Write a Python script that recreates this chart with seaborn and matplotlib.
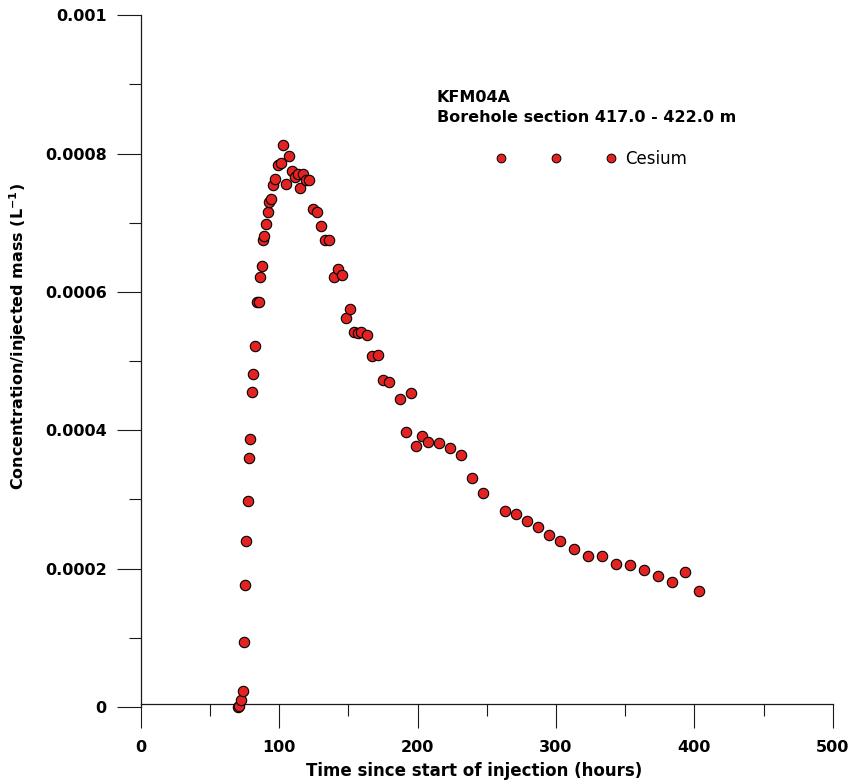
import numpy as np
import pandas as pd
import matplotlib
matplotlib.use("Agg")
import matplotlib.pyplot as plt
import seaborn as sns
from matplotlib.lines import Line2D
from matplotlib.ticker import MultipleLocator

# ---- data ----
time_h = [70.1, 71.3, 72.7, 73.7, 74.4, 75.4, 76.3, 77.3, 78.3, 79.2,
          80.4, 81.4, 82.6, 83.8, 85.5, 86.4, 87.4, 88.4, 89.3, 90.3,
          91.7, 92.7, 94.4, 95.6, 96.8, 99.4, 101.4, 102.9, 105.2, 107.4,
          109.1, 111.5, 113.4, 115.3, 117.3, 119.4, 121.4, 124.3, 127.4, 130.3,
          133.2, 136.3, 139.4, 142.3, 145.4, 148.3, 151.4, 154.3, 157.2, 159.4,
          163.5, 167.1, 171.5, 175.3, 179.4, 187.3, 191.5, 195.5, 199.1, 203.5,
          207.4, 215.5, 223.5, 231.2, 239.4, 247.3, 263.3, 271.4, 279.3, 287.3,
          295.2, 303.2, 313.3, 323.4, 333.3, 343.4, 353.5, 363.4, 373.6, 383.7,
          393.5, 403.4]
conc = [0.0, 0.000001, 0.000010, 0.000023, 0.0000935, 0.000177, 0.000240, 0.000298, 0.000360, 0.000388,
        0.000455, 0.000482, 0.000522, 0.000585, 0.000585, 0.000621, 0.000637, 0.000675, 0.000681, 0.000699,
        0.000715, 0.000730, 0.000735, 0.000754, 0.000763, 0.000784, 0.000787, 0.000813, 0.000756, 0.000796,
        0.000775, 0.000766, 0.000770, 0.000751, 0.000771, 0.000762, 0.000762, 0.000720, 0.000715, 0.000696,
        0.000675, 0.000675, 0.000621, 0.000633, 0.000624, 0.000563, 0.000575, 0.000542, 0.000541, 0.000542,
        0.000538, 0.000507, 0.000509, 0.000473, 0.000470, 0.000445, 0.000398, 0.000454, 0.000377, 0.000392,
        0.000383, 0.000382, 0.000374, 0.000364, 0.000331, 0.000310, 0.000284, 0.000279, 0.000269, 0.000260,
        0.000248, 0.000240, 0.000229, 0.000219, 0.000219, 0.000207, 0.000205, 0.000198, 0.000190, 0.000180,
        0.000195, 0.000168]
series_name = "Cesium"
xticks = [0, 100, 200, 300, 400, 500]
xtick_labels = ["0", "100", "200", "300", "400", "500"]
yticks = [0, 0.0002, 0.0004, 0.0006, 0.0008, 0.001]
ytick_labels = ["0", "0.0002", "0.0004", "0.0006", "0.0008", "0.001"]
title_lines = ["KFM04A", "Borehole section 417.0 - 422.0 m"]
x_label = "Time since start of injection (hours)"
y_label = r"Concentration/injected mass (L$^{\mathbf{-1}}$)"

df = pd.DataFrame({"time": time_h, "conc": conc})

sns.set_style("white")
plt.rcParams["font.family"] = ["DejaVu Sans"]
plt.rcParams["mathtext.fontset"] = "dejavusans"
plt.rcParams["text.color"] = "black"
plt.rcParams["axes.labelcolor"] = "black"
plt.rcParams["xtick.color"] = "black"
plt.rcParams["ytick.color"] = "black"

RED = "#E32222"
AX_COL = "#1a1a1a"

fig = plt.figure(figsize=(8.49, 7.84), dpi=100)
ax = fig.add_axes([140.7 / 849, 1 - 707 / 784, 692 / 849, 691.7 / 784])

sns.scatterplot(data=df, x="time", y="conc", ax=ax, color=RED, edgecolor="black",
                linewidth=0.8, s=56, legend=False, clip_on=False, zorder=3)

ax.set_xlim(0, 500)
ax.set_ylim(0, 0.001)

for side in ("top", "right"):
    ax.spines[side].set_visible(False)
ax.spines["bottom"].set_position(("data", 0.000005))
for side in ("left", "bottom"):
    ax.spines[side].set_color(AX_COL)
    ax.spines[side].set_linewidth(0.9)

ax.set_xticks(xticks, labels=xtick_labels)
ax.set_yticks(yticks, labels=ytick_labels)
ax.xaxis.set_minor_locator(MultipleLocator(50))
ax.yaxis.set_minor_locator(MultipleLocator(0.0001))
ax.tick_params(axis="both", which="both", bottom=True, left=True, top=False, right=False)
ax.tick_params(axis="both", which="major", direction="out", length=17, width=0.8,
               color=AX_COL, labelsize=11.5, labelcolor="black")
ax.tick_params(axis="both", which="minor", direction="out", length=8.7, width=0.8,
               color=AX_COL)
ax.tick_params(axis="x", which="major", pad=9.5)
ax.tick_params(axis="y", which="major", pad=7.5)
for lab in ax.get_xticklabels() + ax.get_yticklabels():
    lab.set_fontweight("bold")

ax.set_xlabel(x_label, fontsize=12, fontweight="bold", va="center", color="black")
ax.xaxis.set_label_coords(0.482, -0.0925)
ax.set_ylabel(y_label, fontsize=11.5, fontweight="bold", va="center", color="black")
ax.yaxis.set_label_coords(-0.1773, 0.535)

fig.text(437 / 849, 1 - 97.5 / 784, title_lines[0], fontsize=11.5, fontweight="bold",
         ha="left", va="center", color="black")
fig.text(437 / 849, 1 - 118 / 784, title_lines[1], fontsize=11.5, fontweight="bold",
         ha="left", va="center", color="black")

handle = Line2D([], [], ls="none", marker="o", markerfacecolor=RED,
                markeredgecolor="black", markersize=6.3, markeredgewidth=0.7,
                label=series_name)
fig.legend(handles=[handle], loc="center left", bbox_to_anchor=(496 / 849, 1 - 159 / 784),
           numpoints=3, handlelength=7.2, handletextpad=0.55, frameon=False,
           borderpad=0, borderaxespad=0, fontsize=12, labelcolor="black")

fig.savefig("out.png", dpi=100)
